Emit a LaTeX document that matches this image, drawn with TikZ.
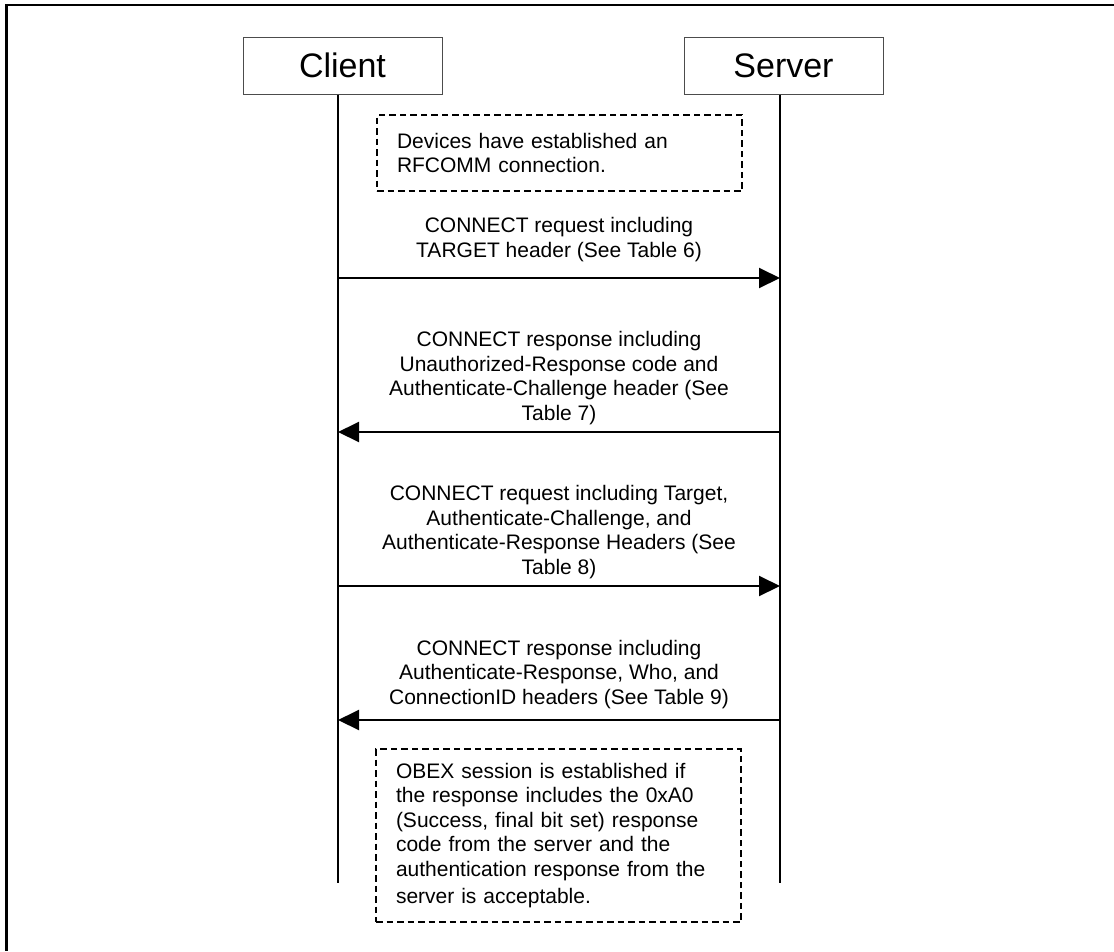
\documentclass[tikz,border=0pt]{standalone}
\usepackage{fontspec}
\setmainfont{Liberation Sans}
\usetikzlibrary{arrows.meta,calc}
\begin{document}
\begin{tikzpicture}[x=1pt,y=-1pt,
  actor/.style={draw=black!70, line width=1pt, minimum width=199pt, minimum height=57pt,
    inner sep=0pt, font=\fontsize{34}{40}\selectfont},
  lifeline/.style={line width=2pt},
  msg/.style={line width=2pt, -{Triangle[length=21pt,width=20pt]}},
  msglabel/.style={align=center, inner sep=0pt, anchor=south,
    font=\fontsize{21}{24.5}\selectfont},
  notebox/.style={draw, line width=1.5pt, dash pattern=on 6.5pt off 4pt,
    minimum width=365pt, inner xsep=20pt, inner ysep=0pt, text width=325pt,
    align=left, font=\fontsize{21}{24.5}\selectfont},
]
\useasboundingbox (0,0) rectangle (1114,951);
% page frame (top and left edges)
\draw[line width=2.5pt] (1114,5) -- (6.5,5) -- (6.5,951);

% participants
\node[actor] (client) at (342.5,65.5) {Client};
\node[actor] (server) at (783.5,65.5) {Server};
\coordinate (cend) at (338,883);
\coordinate (send) at (780,883);
\draw[lifeline] (client.south -| cend) -- (cend);
\draw[lifeline] (server.south -| send) -- (send);

% opening note
\node[notebox, minimum height=76pt] (n1) at (559.5,153)
  {Devices have established an\\RFCOMM connection.};

% message rows
\coordinate (c1) at (338,278); \coordinate (s1) at (780,278);
\coordinate (c2) at (338,432); \coordinate (s2) at (780,432);
\coordinate (c3) at (338,586); \coordinate (s3) at (780,586);
\coordinate (c4) at (338,720); \coordinate (s4) at (780,720);

\draw[msg] (c1) -- (s1);
\node[msglabel] (m1) at ([yshift=16pt]$(c1)!0.5!(s1)$)
  {CONNECT request including\\TARGET header (See Table 6)};

\draw[msg] (s2) -- (c2);
\node[msglabel] (m2) at ([yshift=7pt]$(c2)!0.5!(s2)$)
  {CONNECT response including\\Unauthorized-Response code and\\Authenticate-Challenge header (See\\Table 7)};

\draw[msg] (c3) -- (s3);
\node[msglabel] (m3) at ([yshift=7pt]$(c3)!0.5!(s3)$)
  {CONNECT request including Target,\\Authenticate-Challenge, and\\Authenticate-Response Headers (See\\Table 8)};

\draw[msg] (s4) -- (c4);
\node[msglabel] (m4) at ([yshift=11pt]$(c4)!0.5!(s4)$)
  {CONNECT response including\\Authenticate-Response, Who, and\\ConnectionID headers (See Table 9)};

% closing note
\node[notebox, minimum height=173pt] (n2) at (558.5,835.5)
  {OBEX session is established if\\the response includes the 0xA0\\(Success, final bit set) response\\code from the server and the\\authentication response from the\\[3pt]server is acceptable.};
\end{tikzpicture}
\end{document}
